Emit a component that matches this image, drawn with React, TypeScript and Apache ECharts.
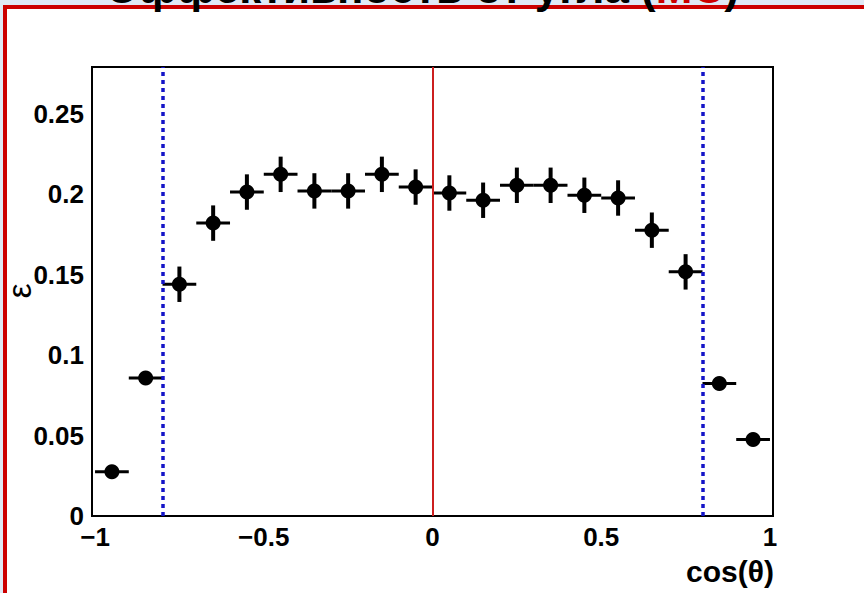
import React, { useEffect, useRef } from "react";
import * as echarts from "echarts";

// ---- data ----
const binCenters = [-0.95, -0.85, -0.75, -0.65, -0.55, -0.45, -0.35, -0.25, -0.15, -0.05, 0.05, 0.15, 0.25, 0.35, 0.45, 0.55, 0.65, 0.75, 0.85, 0.95];
const efficiency = [0.0275, 0.0857, 0.144, 0.182, 0.2013, 0.2123, 0.202, 0.202, 0.2123, 0.2044, 0.2007, 0.1962, 0.2055, 0.2055, 0.1993, 0.1976, 0.1776, 0.1517, 0.0824, 0.0476];
const effErrors = [0.004, 0.004, 0.011, 0.011, 0.011, 0.011, 0.011, 0.011, 0.011, 0.011, 0.011, 0.011, 0.011, 0.011, 0.011, 0.011, 0.011, 0.011, 0.004, 0.004];
const binHalfWidth = 0.05;

const xMajorTicks = [-1, -0.5, 0, 0.5, 1];
const xMinorTicks = [-1, -0.9, -0.8, -0.7, -0.6, -0.5, -0.4, -0.3, -0.2, -0.1, 0, 0.1, 0.2, 0.3, 0.4, 0.5, 0.6, 0.7, 0.8, 0.9, 1];
const yMajorTicks = [0, 0.05, 0.1, 0.15, 0.2, 0.25];
const yMinorTicks = [0, 0.01, 0.02, 0.03, 0.04, 0.05, 0.06, 0.07, 0.08, 0.09, 0.1, 0.11, 0.12, 0.13, 0.14, 0.15, 0.16, 0.17, 0.18, 0.19, 0.2, 0.21, 0.22, 0.23, 0.24, 0.25, 0.26, 0.27];
const cutLines = [-0.8, 0.8];
const centerLines = [0];

const titleMain = "Эффективность от угла (";
const titleMC = "MC";
const titleEnd = ")";
const xName = "cos(θ)";
const yName = "ε";

const FONT = "Liberation Sans, Arial, Helvetica, sans-serif";

export default function App() {
  const ref = useRef<HTMLDivElement>(null);

  useEffect(() => {
    if (!ref.current) return;
    const chart = echarts.init(ref.current, undefined, { renderer: "svg" });

    const fmt = (v: number) => {
      const s = String(Math.round(Math.abs(v) * 100) / 100);
      return v < 0 ? "\u2212" + s : s;
    };

    const errData = binCenters.map((x, i) => [x, efficiency[i], effErrors[i]]);
    const ptData = binCenters.map((x, i) => [x, efficiency[i]]);

    const option: any = {
      animation: false,
      backgroundColor: "#dfe9f5",
      grid: {
        left: 92,
        right: 91,
        top: 67,
        bottom: 77,
        show: true,
        backgroundColor: "#ffffff",
        borderColor: "#000000",
        borderWidth: 2,
        z: 1,
      },
      xAxis: [
        {
          type: "value",
          min: -1.009,
          max: 1.009,
          position: "bottom",
          axisLine: { show: false },
          splitLine: { show: false },
          axisTick: {
            show: true,
            inside: true,
            length: 13,
            customValues: xMajorTicks,
            lineStyle: { color: "#000", width: 1.5 },
          },
          axisLabel: {
            show: true,
            customValues: xMajorTicks,
            formatter: (v: number) => fmt(v),
            color: "#000",
            fontFamily: FONT,
            fontWeight: "bold",
            fontSize: 26,
            margin: 8,
          },
        },
        {
          type: "value",
          min: -1.009,
          max: 1.009,
          position: "bottom",
          axisLine: { show: false },
          splitLine: { show: false },
          axisLabel: { show: false },
          axisTick: {
            show: true,
            inside: true,
            length: 8,
            customValues: xMinorTicks,
            lineStyle: { color: "#000", width: 1.5 },
          },
        },
      ],
      yAxis: [
        {
          type: "value",
          min: 0,
          max: 0.279,
          position: "left",
          axisLine: { show: false },
          splitLine: { show: false },
          axisTick: {
            show: true,
            inside: true,
            length: 19,
            customValues: yMajorTicks,
            lineStyle: { color: "#000", width: 1.5 },
          },
          axisLabel: {
            show: true,
            customValues: yMajorTicks,
            formatter: (v: number) => fmt(v),
            color: "#000",
            fontFamily: FONT,
            fontWeight: "bold",
            fontSize: 26,
            margin: 8,
          },
        },
        {
          type: "value",
          min: 0,
          max: 0.279,
          position: "left",
          axisLine: { show: false },
          splitLine: { show: false },
          axisLabel: { show: false },
          axisTick: {
            show: true,
            inside: true,
            length: 9,
            customValues: yMinorTicks,
            lineStyle: { color: "#000", width: 1.5 },
          },
        },
      ],
      graphic: [
        {
          type: "rect",
          z: -10,
          shape: { x: 5, y: 7, width: 900, height: 700 },
          style: { fill: "#ffffff", stroke: "#cc0000", lineWidth: 4 },
        },
        {
          type: "text",
          z: 100,
          x: 423,
          y: -13,
          style: {
            text: "{a|" + titleMain + "}{b|" + titleMC + "}{a|" + titleEnd + "}",
            align: "center",
            verticalAlign: "middle",
            fontSize: 44,
            fontWeight: "bold",
            fontFamily: FONT,
            rich: {
              a: { fill: "#000000", fontSize: 44, fontWeight: "bold", fontFamily: FONT },
              b: { fill: "#cc0000", fontSize: 44, fontWeight: "bold", fontFamily: FONT },
            },
          },
        },
        {
          type: "text",
          z: 100,
          x: 774,
          y: 571,
          style: {
            text: xName,
            align: "right",
            verticalAlign: "middle",
            fontSize: 30,
            fontWeight: "bold",
            fontFamily: FONT,
            fill: "#000",
          },
        },
        {
          type: "text",
          z: 100,
          x: 19,
          y: 291,
          rotation: Math.PI / 2,
          style: {
            text: yName,
            align: "center",
            verticalAlign: "middle",
            fontSize: 34,
            fontFamily: FONT,
            fill: "#000",
          },
        },
      ],
      series: [
        {
          type: "line",
          data: [],
          z: 2,
          silent: true,
          markLine: {
            silent: true,
            symbol: "none",
            label: { show: false },
            data: [
              ...cutLines.map((v) => ({
                xAxis: v,
                lineStyle: { color: "#1414c8", width: 3.5, type: [4, 4], opacity: 1 },
              })),
              ...centerLines.map((v) => ({
                xAxis: v,
                lineStyle: { color: "#cc1f1f", width: 2, type: "solid", opacity: 1 },
              })),
            ],
          },
        },
        {
          type: "custom",
          z: 3,
          silent: true,
          data: errData,
          encode: { x: 0, y: 1 },
          renderItem: (_params: any, api: any) => {
            const x = api.value(0);
            const y = api.value(1);
            const e = api.value(2);
            const l = api.coord([x - binHalfWidth, y]);
            const r = api.coord([x + binHalfWidth, y]);
            const t = api.coord([x, y + e]);
            const b = api.coord([x, y - e]);
            return {
              type: "group",
              children: [
                {
                  type: "line",
                  shape: { x1: l[0], y1: l[1], x2: r[0], y2: r[1] },
                  style: { stroke: "#000", lineWidth: 3 },
                },
                {
                  type: "line",
                  shape: { x1: t[0], y1: t[1], x2: b[0], y2: b[1] },
                  style: { stroke: "#000", lineWidth: 4 },
                },
              ],
            };
          },
        },
        {
          type: "scatter",
          z: 4,
          silent: true,
          symbol: "circle",
          symbolSize: 15,
          itemStyle: { color: "#000", opacity: 1 },
          data: ptData,
        },
      ],
    };

    chart.setOption(option);
    return () => chart.dispose();
  }, []);

  return (
    <div
      ref={ref}
      style={{ position: "fixed", left: 0, top: 0, width: 864, height: 593 }}
    />
  );
}
